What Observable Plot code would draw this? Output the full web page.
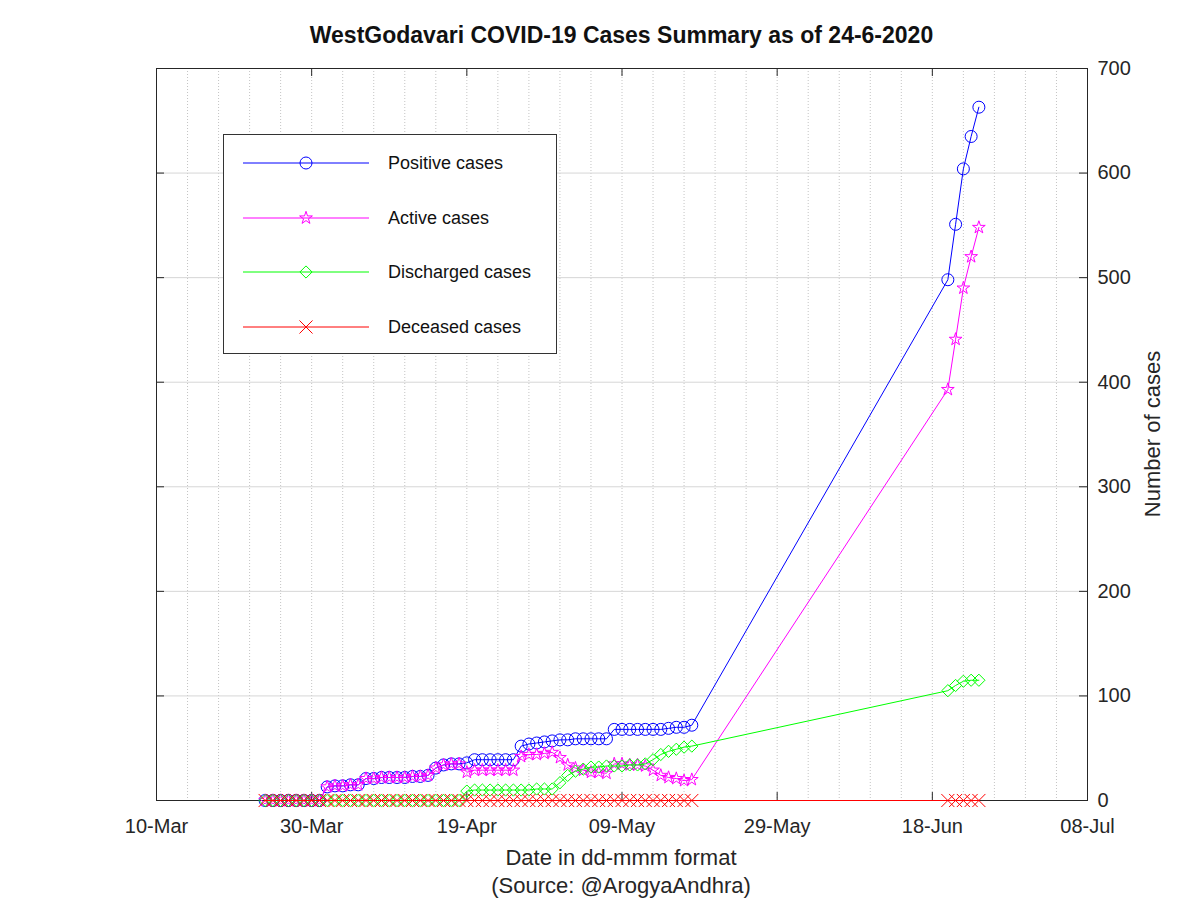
<!DOCTYPE html>
<html>
<head>
<meta charset="utf-8">
<script src="https://cdn.jsdelivr.net/npm/d3@7"></script>
<script src="https://cdn.jsdelivr.net/npm/@observablehq/plot@0.6"></script>
<style>
  body { margin: 0; background: #fff; font-family: "Liberation Sans", Arial, sans-serif; }
  #wrap { position: relative; width: 1200px; height: 900px; overflow: hidden; background: #fff; }
  #wrap svg.plot { position: absolute; left: 0; top: 50px; }
  .txt { position: absolute; color: #111; line-height: 1; white-space: nowrap; }
  #title { left: 0; width: 1243px; text-align: center; top: 24px; font-size: 23px; font-weight: bold; }
  #xlabel { left: 0; width: 1242px; text-align: center; top: 847px; font-size: 22px; color: #262626; }
  #source { left: 0; width: 1242px; text-align: center; top: 875px; font-size: 22px; color: #262626; }
  #ylabel { left: 1153px; top: 434px; font-size: 22px; color: #262626; transform: translate(-50%, -50%) rotate(-90deg); }
  #legend { position: absolute; left: 223px; top: 134px; width: 334px; height: 220px; box-sizing: border-box; border: 1px solid #333; background: #fff; }
</style>
</head>
<body>
<div id="wrap">
  <div class="txt" id="title">WestGodavari COVID-19 Cases Summary as of 24-6-2020</div>
  <div class="txt" id="xlabel">Date in dd-mmm format</div>
  <div class="txt" id="source">(Source: @ArogyaAndhra)</div>
  <div class="txt" id="ylabel">Number of cases</div>
</div>
<script>
// ---------------- data ----------------
const dates = [
  "2020-03-24","2020-03-25","2020-03-26","2020-03-27","2020-03-28","2020-03-29","2020-03-30","2020-03-31",
  "2020-04-01","2020-04-02","2020-04-03","2020-04-04","2020-04-05","2020-04-06","2020-04-07","2020-04-08",
  "2020-04-09","2020-04-10","2020-04-11","2020-04-12","2020-04-13","2020-04-14","2020-04-15","2020-04-16",
  "2020-04-17","2020-04-18","2020-04-19","2020-04-20","2020-04-21","2020-04-22","2020-04-23","2020-04-24",
  "2020-04-25","2020-04-26","2020-04-27","2020-04-28","2020-04-29","2020-04-30",
  "2020-05-01","2020-05-02","2020-05-03","2020-05-04","2020-05-05","2020-05-06","2020-05-07","2020-05-08",
  "2020-05-09","2020-05-10","2020-05-11","2020-05-12","2020-05-13","2020-05-14","2020-05-15","2020-05-16",
  "2020-05-17","2020-05-18",
  "2020-06-20","2020-06-21","2020-06-22","2020-06-23","2020-06-24"
];
const positive = [
  0,0,0,0,0,0,0,0,
  13,14,14,15,15, 21,21,22,22,22,22,23,23,24, 31,34,35,35, 36,39,39,39,39,39,39, 52,54,55,56,57,
  58,58,59,59,59,59,59, 68,68,68,68,68,68,68,69,70,70,72,
  498,551,604,635,663
];
const active = [
  0,0,0,0,0,0,0,0,
  13,14,14,15,15, 21,21,22,22,22,22,23,23,24, 31,34,35,35, 27,29,29,29,29,29,29, 42,44,44,45,46,
  41,34,31,29,27,27,26, 35,35,34,34,33,29,24,22,21,19,20,
  393,441,490,520,548
];
const discharged = [
  0,0,0,0,0,0,0,0,
  0,0,0,0,0, 0,0,0,0,0,0,0,0,0, 0,0,0,0, 9,10,10,10,10,10,10, 10,10,11,11,11,
  17,24,28,30,32,32,33, 33,33,34,34,35,39,44,47,49,51,52,
  105,110,114,115,115
];
const deceased = [
  0,0,0,0,0,0,0,0,
  0,0,0,0,0, 0,0,0,0,0,0,0,0,0, 0,0,0,0, 0,0,0,0,0,0,0, 0,0,0,0,0,
  0,0,0,0,0,0,0, 0,0,0,0,0,0,0,0,0,0,0,
  0,0,0,0,0
];
const seriesNames = ["Positive cases", "Active cases", "Discharged cases", "Deceased cases"];
const seriesColors = ["#0000ff", "#ff00ff", "#00ff00", "#ff0000"];
const seriesSymbols = ["circle", "star", "diamond2", "times"];
const xTickLabels = ["2020-03-10","2020-03-30","2020-04-19","2020-05-09","2020-05-29","2020-06-18","2020-07-08"];
const yTicks = [0, 100, 200, 300, 400, 500, 600, 700];

// ---------------- build ----------------
const seriesValues = [positive, active, discharged, deceased];
const symbolRadius = {circle: 6, star: 4, diamond2: 5.5, times: 6};
const xTicks = xTickLabels.map(s => new Date(s));
const xDomain = [xTicks[0], xTicks[xTicks.length - 1]];
const minorGrid = [];
for (let t = xDomain[0]; t <= xDomain[1]; t = d3.utcDay.offset(t, 4)) minorGrid.push(t);

const W = 1200, H = 790, mT = 18, mB = 40, mL = 156, mR = 113;
const pw = W - mL - mR, ph = H - mT - mB, tk = 8;

const seriesMarks = [];
seriesValues.forEach((vals, i) => {
  const data = dates.map((d, j) => ({date: new Date(d), value: vals[j]}));
  seriesMarks.push(Plot.line(data, {x: "date", y: "value", stroke: seriesColors[i], strokeWidth: 1}));
  seriesMarks.push(Plot.dot(data, {x: "date", y: "value", symbol: seriesSymbols[i], r: symbolRadius[seriesSymbols[i]],
    stroke: seriesColors[i], fill: "none", strokeWidth: 1}));
});

const chart = Plot.plot({
  width: W, height: H,
  marginTop: mT, marginBottom: mB, marginLeft: mL, marginRight: mR,
  x: {type: "utc", domain: xDomain},
  y: {domain: [0, 700]},
  style: {fontFamily: "'Liberation Sans', Arial, sans-serif", fontSize: "20px", color: "#262626", background: "transparent", overflow: "visible"},
  marks: [
    Plot.ruleX(minorGrid, {x: d => d, stroke: "#c4c4c4", strokeDasharray: "1,2", strokeWidth: 1}),
    Plot.ruleY(yTicks, {y: d => d, stroke: "#d6d6d6", strokeWidth: 1}),
    Plot.axisX({ticks: xTicks, anchor: "bottom", tickSize: 0, tickPadding: 18, tickFormat: d3.utcFormat("%d-%b"), label: null}),
    Plot.axisY({ticks: yTicks, anchor: "right", tickSize: 0, tickPadding: 10, label: null}),
    Plot.tickX(xTicks, {x: d => d, insetTop: ph - tk, stroke: "#262626"}),
    Plot.tickX(xTicks, {x: d => d, insetBottom: ph - tk, stroke: "#262626"}),
    Plot.tickY(yTicks, {y: d => d, insetLeft: pw - tk, stroke: "#262626"}),
    Plot.tickY(yTicks, {y: d => d, insetRight: pw - tk, stroke: "#262626"}),
    Plot.frame({stroke: "#262626", strokeWidth: 1}),
    ...seriesMarks
  ]
});
chart.classList.add("plot");
const wrap = document.getElementById("wrap");
wrap.appendChild(chart);

// ---------------- legend ----------------
const legend = document.createElement("div");
legend.id = "legend";
wrap.appendChild(legend);
const lsvg = d3.select(legend).append("svg").attr("width", 332).attr("height", 218)
  .style("position", "absolute").style("left", "0px").style("top", "0px");
const d3Symbols = {circle: d3.symbolCircle, star: d3.symbolStar, diamond2: d3.symbolDiamond2, times: d3.symbolTimes};
const rowY = [28, 83, 137, 192];
seriesNames.forEach((name, i) => {
  const g = lsvg.append("g").attr("transform", `translate(0,${rowY[i]})`);
  g.append("line").attr("x1", 19).attr("x2", 145).attr("y1", 0).attr("y2", 0)
    .attr("stroke", seriesColors[i]).attr("stroke-width", 1);
  const r = symbolRadius[seriesSymbols[i]];
  g.append("path").attr("d", d3.symbol(d3Symbols[seriesSymbols[i]], Math.PI * r * r)())
    .attr("transform", "translate(82,0)").attr("fill", "none").attr("stroke", seriesColors[i]).attr("stroke-width", 1);
  g.append("text").attr("x", 164).attr("y", 0).attr("dy", "0.35em").attr("font-size", 18)
    .attr("font-family", "'Liberation Sans', Arial, sans-serif").attr("fill", "#111").text(name);
});
</script>
</body>
</html>
